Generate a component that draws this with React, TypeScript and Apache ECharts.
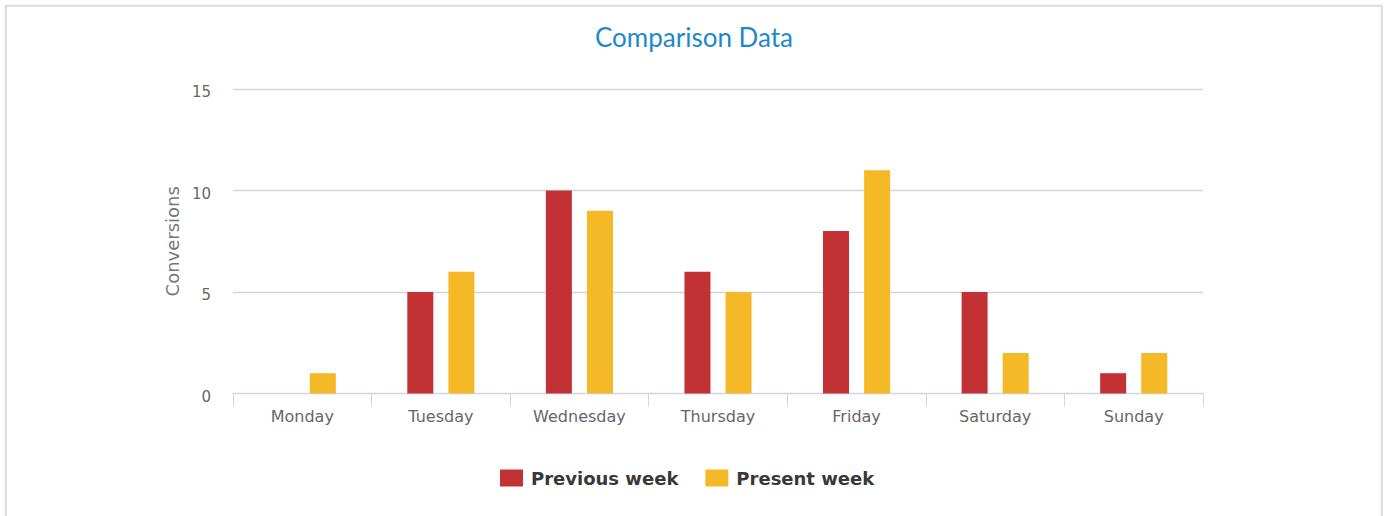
import React, { useEffect, useRef } from "react";
import * as echarts from "echarts";

const categories = ["Monday", "Tuesday", "Wednesday", "Thursday", "Friday", "Saturday", "Sunday"];
const previousWeek = [0, 5, 10, 6, 8, 5, 1];
const presentWeek = [1, 6, 9, 5, 11, 2, 2];
const seriesNames = ["Previous week", "Present week"];
const titleText = "Comparison Data";
const yAxisTitle = "Conversions";

export default function App() {
  const ref = useRef<HTMLDivElement>(null);
  useEffect(() => {
    if (!ref.current) return;
    const chart = echarts.init(ref.current, null, { renderer: "svg" });
    chart.setOption({
      animation: false,
      backgroundColor: "#ffffff",
      title: {
        text: titleText,
        left: "center",
        top: 19,
        textStyle: { color: "#1f88c9", fontFamily: "Lato", fontWeight: "normal", fontSize: 26 },
      },
      graphic: [
        {
          type: "rect",
          shape: { x: 5.8, y: 5.8, width: 1376, height: 620 },
          style: { fill: "none", stroke: "#dcdcdc", lineWidth: 2 },
          silent: true,
        },
      ],
      legend: {
        data: seriesNames,
        left: 495,
        top: 464,
        icon: "rect",
        itemWidth: 23,
        itemHeight: 17,
        itemGap: 27,
        textStyle: {
          fontFamily: "DejaVu Sans",
          fontWeight: "bold",
          fontSize: 18,
          color: "#383838",
          padding: [0, 0, 0, 3],
        },
      },
      grid: { left: 233, right: 185, top: 89, bottom: 122.5, containLabel: false },
      xAxis: {
        type: "category",
        data: categories,
        boundaryGap: true,
        axisLine: { lineStyle: { color: "#ccd6eb", width: 1 } },
        axisTick: { show: true, length: 13, alignWithLabel: false, lineStyle: { color: "#ccd6eb" } },
        axisLabel: { color: "#666666", fontFamily: "DejaVu Sans", fontSize: 16, margin: 15 },
      },
      yAxis: {
        type: "value",
        min: 0,
        max: 15,
        interval: 5,
        name: yAxisTitle,
        nameLocation: "middle",
        nameGap: 52,
        nameTextStyle: { color: "#777777", fontFamily: "DejaVu Sans", fontSize: 18 },
        axisLine: { show: false },
        axisTick: { show: false },
        axisLabel: {
          color: "#666666",
          fontFamily: "DejaVu Sans",
          fontSize: 15,
          margin: 22,
          verticalAlign: "top",
          lineHeight: 6,
        },
        splitLine: { lineStyle: { color: "#d6d6d6", width: 1.3 } },
      },
      series: [
        {
          name: seriesNames[0],
          type: "bar",
          data: previousWeek,
          barWidth: 26,
          barGap: "58%",
          itemStyle: { color: "#c23134" },
        },
        {
          name: seriesNames[1],
          type: "bar",
          data: presentWeek,
          barWidth: 26,
          barGap: "58%",
          itemStyle: { color: "#f5b827" },
        },
      ],
    });
    return () => chart.dispose();
  }, []);
  return (
    <div
      ref={ref}
      style={{ position: "fixed", left: 0, top: 0, width: 1388, height: 516 }}
    />
  );
}
